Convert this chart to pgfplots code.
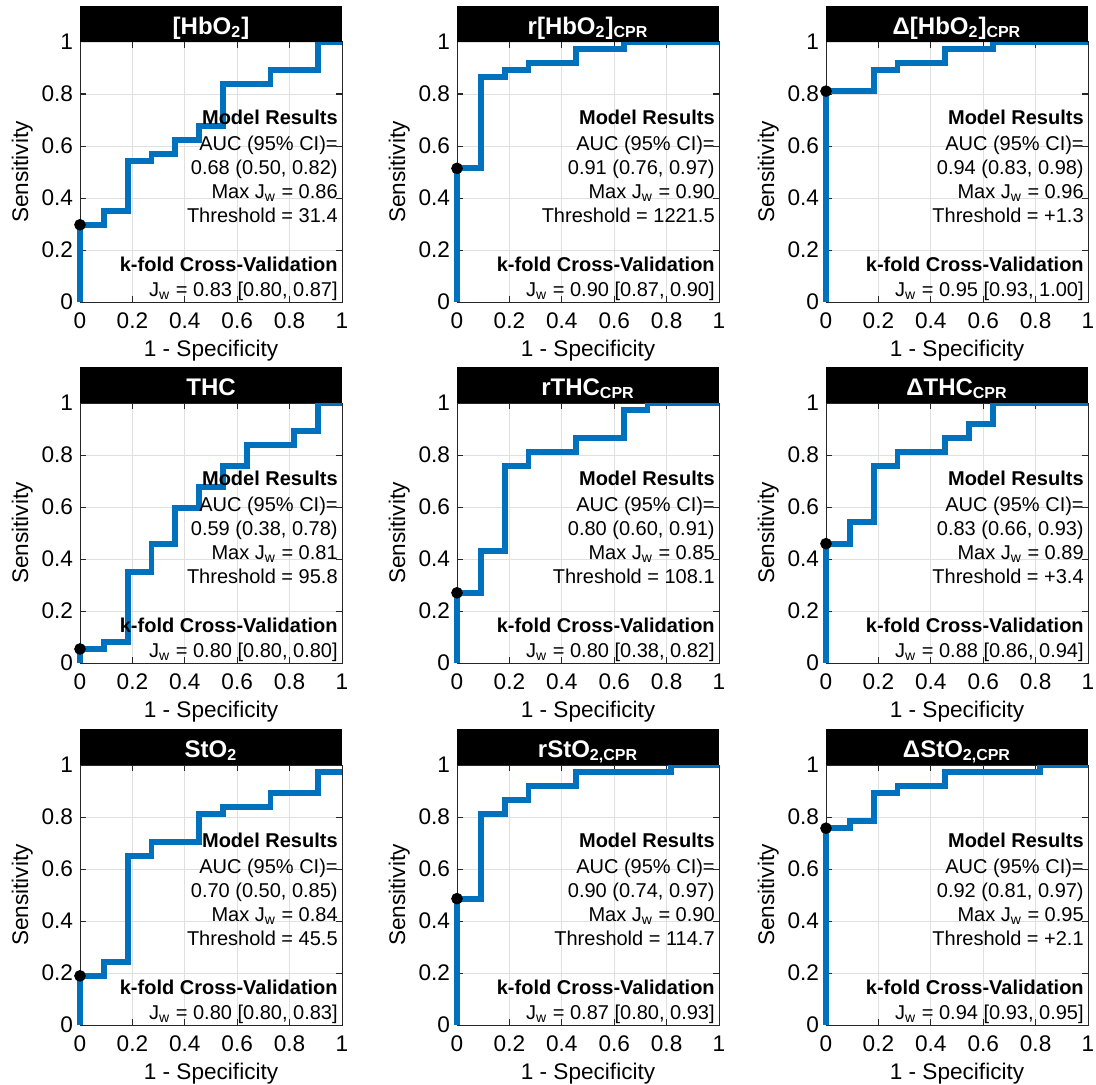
\documentclass[border=0pt]{standalone}
\usepackage{fontspec}
\setmainfont{Liberation Sans}
\usepackage{pgfplots}
\pgfplotsset{compat=1.18}
\definecolor{mblue}{RGB}{0,114,189}
\definecolor{axgray}{RGB}{38,38,38}
\newcommand\annfont{\fontsize{10}{12}\selectfont}
\newcommand\titlefont{\bfseries\fontsize{12}{14}\selectfont}
\tikzset{annf/.style={anchor=base east, inner sep=0pt, font=\annfont}}
\newcommand\ann[4]{%
 \node[annf,font=\annfont\bfseries] at (rel axis cs:0.985,0.682) {Model Results};
 \node[annf] at (rel axis cs:0.985,0.583) {AUC (95\% CI)=};
 \node[annf] at (rel axis cs:0.985,0.490) {#1};
 \node[annf] at (rel axis cs:0.985,0.398) {Max J\textsubscript{w} = #2};
 \node[annf] at (rel axis cs:0.985,0.306) {Threshold = #3};
 \node[annf,font=\annfont\bfseries] at (rel axis cs:0.985,0.118) {k-fold Cross-Validation};
 \node[annf] at (rel axis cs:0.985,0.022) {J\textsubscript{w} = #4};
}
\newcommand\ttl[1]{%
 \fill[black] (rel axis cs:0,1) rectangle (rel axis cs:1,1.138);
 \node[white, font=\titlefont, anchor=base, inner sep=0pt] at (rel axis cs:0.5,1.03) {#1};
}
\pgfplotsset{
 rocax/.style={
  scale only axis, width=131pt, height=130pt,
  anchor=south west,
  xmin=0, xmax=1, ymin=0, ymax=1,
  xtick={0,0.2,0.4,0.6,0.8,1}, ytick={0,0.2,0.4,0.6,0.8,1},
  grid=major, grid style={color=black!12, line width=0.4pt},
  axis line style={color=axgray, line width=0.5pt},
  tick style={color=axgray, line width=0.5pt},
  major tick length=3pt,
  tick align=inside,
  ticklabel style={font=\fontsize{11.3}{13}\selectfont},
  xticklabel style={yshift=-2pt},
  /pgf/number format/assume math mode=true,
  xlabel={1 - Specificity}, ylabel={Sensitivity},
  label style={font=\fontsize{11.3}{13}\selectfont},
  xlabel style={yshift=1.5pt},
  ylabel style={yshift=-2.5pt},
  clip=false,
 },
 roc/.style={color=mblue, line width=2.9pt},
 dot/.style={only marks, mark=*, mark size=2.7pt, color=black},
}
\begin{document}
\begin{tikzpicture}
\path[use as bounding box] (0pt,0pt) rectangle (548pt,542pt);
% Row 1
\begin{axis}[rocax, at={(40pt,391pt)}]
\addplot[roc] coordinates {(0,0)(0,0.297)(0.0909,0.297)(0.0909,0.351)(0.1818,0.351)(0.1818,0.541)(0.2727,0.541)(0.2727,0.568)(0.3636,0.568)(0.3636,0.622)(0.4545,0.622)(0.4545,0.676)(0.5455,0.676)(0.5455,0.838)(0.7273,0.838)(0.7273,0.892)(0.9091,0.892)(0.9091,1)(1,1)};
\addplot[dot] coordinates {(0,0.297)};
\ttl{[HbO\textsubscript{2}]}
\ann{0.68 (0.50, 0.82)}{0.86}{31.4}{0.83 [0.80, 0.87]}
\end{axis}
\begin{axis}[rocax, at={(228.5pt,391pt)}]
\addplot[roc] coordinates {(0,0)(0,0.514)(0.0909,0.514)(0.0909,0.865)(0.1818,0.865)(0.1818,0.892)(0.2727,0.892)(0.2727,0.919)(0.4545,0.919)(0.4545,0.973)(0.6364,0.973)(0.6364,1)(1,1)};
\addplot[dot] coordinates {(0,0.514)};
\ttl{r[HbO\textsubscript{2}]\textsubscript{CPR}}
\ann{0.91 (0.76, 0.97)}{0.90}{1221.5}{0.90 [0.87, 0.90]}
\end{axis}
\begin{axis}[rocax, at={(413pt,391pt)}]
\addplot[roc] coordinates {(0,0)(0,0.811)(0.1818,0.811)(0.1818,0.892)(0.2727,0.892)(0.2727,0.919)(0.4545,0.919)(0.4545,0.973)(0.6364,0.973)(0.6364,1)(1,1)};
\addplot[dot] coordinates {(0,0.811)};
\ttl{Δ[HbO\textsubscript{2}]\textsubscript{CPR}}
\ann{0.94 (0.83, 0.98)}{0.96}{+1.3}{0.95 [0.93, 1.00]}
\end{axis}
% Row 2
\begin{axis}[rocax, at={(40pt,210.5pt)}]
\addplot[roc] coordinates {(0,0)(0,0.054)(0.0909,0.054)(0.0909,0.081)(0.1818,0.081)(0.1818,0.351)(0.2727,0.351)(0.2727,0.459)(0.3636,0.459)(0.3636,0.595)(0.4545,0.595)(0.4545,0.676)(0.5455,0.676)(0.5455,0.757)(0.6364,0.757)(0.6364,0.838)(0.8182,0.838)(0.8182,0.892)(0.9091,0.892)(0.9091,1)(1,1)};
\addplot[dot] coordinates {(0,0.054)};
\ttl{THC}
\ann{0.59 (0.38, 0.78)}{0.81}{95.8}{0.80 [0.80, 0.80]}
\end{axis}
\begin{axis}[rocax, at={(228.5pt,210.5pt)}]
\addplot[roc] coordinates {(0,0)(0,0.270)(0.0909,0.270)(0.0909,0.432)(0.1818,0.432)(0.1818,0.757)(0.2727,0.757)(0.2727,0.811)(0.4545,0.811)(0.4545,0.865)(0.6364,0.865)(0.6364,0.973)(0.7273,0.973)(0.7273,1)(1,1)};
\addplot[dot] coordinates {(0,0.270)};
\ttl{rTHC\textsubscript{CPR}}
\ann{0.80 (0.60, 0.91)}{0.85}{108.1}{0.80 [0.38, 0.82]}
\end{axis}
\begin{axis}[rocax, at={(413pt,210.5pt)}]
\addplot[roc] coordinates {(0,0)(0,0.459)(0.0909,0.459)(0.0909,0.541)(0.1818,0.541)(0.1818,0.757)(0.2727,0.757)(0.2727,0.811)(0.4545,0.811)(0.4545,0.865)(0.5455,0.865)(0.5455,0.919)(0.6364,0.919)(0.6364,1)(1,1)};
\addplot[dot] coordinates {(0,0.459)};
\ttl{ΔTHC\textsubscript{CPR}}
\ann{0.83 (0.66, 0.93)}{0.89}{+3.4}{0.88 [0.86, 0.94]}
\end{axis}
% Row 3
\begin{axis}[rocax, at={(40pt,29.5pt)}]
\addplot[roc] coordinates {(0,0)(0,0.189)(0.0909,0.189)(0.0909,0.243)(0.1818,0.243)(0.1818,0.649)(0.2727,0.649)(0.2727,0.703)(0.4545,0.703)(0.4545,0.811)(0.5455,0.811)(0.5455,0.838)(0.7273,0.838)(0.7273,0.892)(0.9091,0.892)(0.9091,0.973)(1,0.973)};
\addplot[dot] coordinates {(0,0.189)};
\ttl{StO\textsubscript{2}}
\ann{0.70 (0.50, 0.85)}{0.84}{45.5}{0.80 [0.80, 0.83]}
\end{axis}
\begin{axis}[rocax, at={(228.5pt,29.5pt)}]
\addplot[roc] coordinates {(0,0)(0,0.486)(0.0909,0.486)(0.0909,0.811)(0.1818,0.811)(0.1818,0.865)(0.2727,0.865)(0.2727,0.919)(0.4545,0.919)(0.4545,0.973)(0.8182,0.973)(0.8182,1)(1,1)};
\addplot[dot] coordinates {(0,0.486)};
\ttl{rStO\textsubscript{2,CPR}}
\ann{0.90 (0.74, 0.97)}{0.90}{114.7}{0.87 [0.80, 0.93]}
\end{axis}
\begin{axis}[rocax, at={(413pt,29.5pt)}]
\addplot[roc] coordinates {(0,0)(0,0.757)(0.0909,0.757)(0.0909,0.784)(0.1818,0.784)(0.1818,0.892)(0.2727,0.892)(0.2727,0.919)(0.4545,0.919)(0.4545,0.973)(0.8182,0.973)(0.8182,1)(1,1)};
\addplot[dot] coordinates {(0,0.757)};
\ttl{ΔStO\textsubscript{2,CPR}}
\ann{0.92 (0.81, 0.97)}{0.95}{+2.1}{0.94 [0.93, 0.95]}
\end{axis}
\end{tikzpicture}
\end{document}
